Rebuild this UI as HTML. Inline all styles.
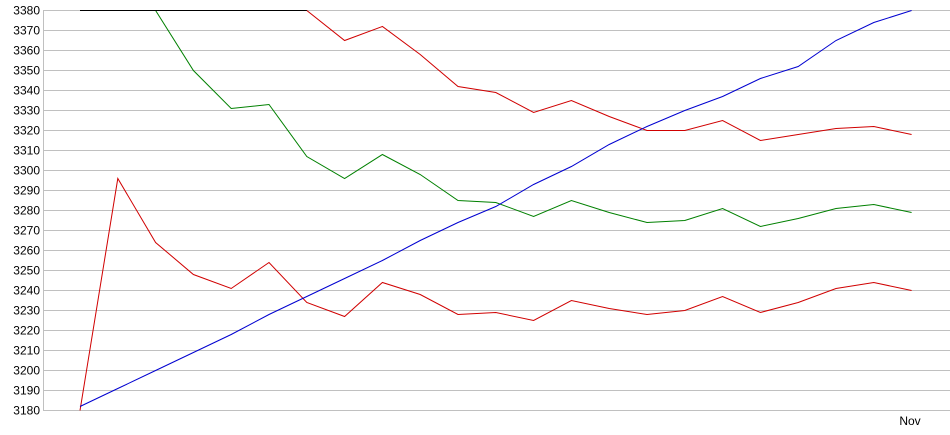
<!DOCTYPE html><html><head><style>body{margin:0;background:#fff}svg{display:block}text{font-family:"Liberation Sans",sans-serif;font-size:12px;fill:#000}</style></head><body>
<svg id="s" width="950" height="435" xmlns="http://www.w3.org/2000/svg"></svg>
<script>
const s=document.getElementById('s');let h='';
const Y=v=>410-(v-3180)*2, X=i=>80+i*37.8;
for(let v=3180;v<=3380;v+=10){const y=Y(v)+0.5;h+=`<line x1="43" x2="950" y1="${y}" y2="${y}" stroke="#c0c0c0"/><text x="40" y="${y+4}" text-anchor="end">${v}</text>`;}
h+=`<line x1="43.5" x2="43.5" y1="10" y2="411" stroke="#c0c0c0"/>`;
const ser=[
["#d00000",[3380,3380,3380,3380,3380,3380,3380,3365,3372,3358,3342,3339,3329,3335,3327,3320,3320,3325,3315,3318,3321,3322,3318]],
["#008000",[3380,3380,3380,3350,3331,3333,3307,3296,3308,3298,3285,3284,3277,3285,3279,3274,3275,3281,3272,3276,3281,3283,3279]],
["#d00000",[3180,3296,3264,3248,3241,3254,3234,3227,3244,3238,3228,3229,3225,3235,3231,3228,3230,3237,3229,3234,3241,3244,3240]],
["#0000d0",[3182,3191,3200,3209,3218,3228,3237,3246,3255,3265,3274,3282,3293,3302,3313,3322,3330,3337,3346,3352,3365,3374,3380]],
["#000000",[3380,3380,3380,3380,3380,3380,3380]]];
for(const [c,d] of ser)h+=`<polyline fill="none" stroke="${c}" stroke-width="1" points="${d.map((v,i)=>X(i).toFixed(1)+','+(Y(v)+0.5)).join(' ')}"/>`;
h+=`<text x="910" y="425" text-anchor="middle">Nov</text>`;
s.innerHTML=h;
</script></body></html>
